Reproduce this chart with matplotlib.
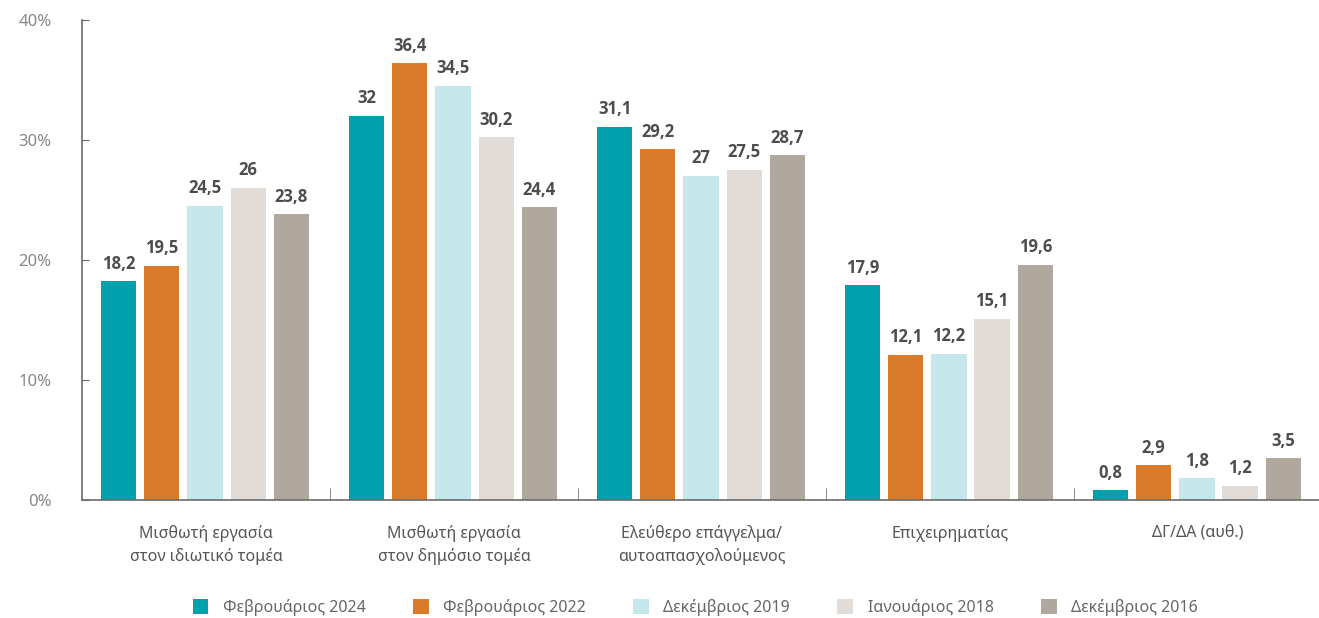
import matplotlib.pyplot as plt
import numpy as np

plt.rcParams['font.family'] = ['Noto Sans', 'DejaVu Sans']

categories = ['Μισθωτή εργασία\nστον ιδιωτικό τομέα',
              'Μισθωτή εργασία\nστον δημόσιο τομέα',
              'Ελεύθερο επάγγελμα/\nαυτοαπασχολούμενος',
              'Επιχειρηματίας',
              'ΔΓ/ΔΑ (αυθ.)']
series_names = ['Φεβρουάριος 2024', 'Φεβρουάριος 2022', 'Δεκέμβριος 2019',
                'Ιανουάριος 2018', 'Δεκέμβριος 2016']
feb2024 = [18.2, 32, 31.1, 17.9, 0.8]
feb2022 = [19.5, 36.4, 29.2, 12.1, 2.9]
dec2019 = [24.5, 34.5, 27, 12.2, 1.8]
jan2018 = [26, 30.2, 27.5, 15.1, 1.2]
dec2016 = [23.8, 24.4, 28.7, 19.6, 3.5]
colors = ['#00A0AD', '#DA7B2B', '#C5E6EA', '#E1DCD8', '#B0A89D']

data = [feb2024, feb2022, dec2019, jan2018, dec2016]

fig = plt.figure(figsize=(13.19, 6.18), dpi=100)
ax = fig.add_axes([0.0622, 0.191, 0.94, 0.777])

x = np.arange(len(categories)) + 0.5
pitch = 0.174
width = 0.142
for i, (vals, name, c) in enumerate(zip(data, series_names, colors)):
    pos = x + (i - 2) * pitch - 0.004
    ax.bar(pos, vals, width, color=c, label=name)
    for p, v in zip(pos, vals):
        txt = ('%g' % v).replace('.', ',')
        ax.text(p, v + 0.7, txt, ha='center', va='bottom', fontsize=12,
                fontweight='bold', color='#4d4d4d',
                family=['Open Sans', 'DejaVu Sans'])

ax.set_xlim(0, 5)
ax.set_ylim(0, 40)
ax.set_yticks([0, 10, 20, 30, 40])
ax.set_yticklabels(['0%', '10%', '20%', '30%', '40%'])
ax.set_xticks(x)
ax.set_xticklabels(categories, fontsize=11.5, color='#555555', linespacing=1.5)
ax.set_xticks(np.arange(1, 5), minor=True)
ax.tick_params(axis='x', which='major', length=0, pad=18)
ax.tick_params(axis='x', which='minor', direction='in', length=9, color='#777777')
ax.tick_params(axis='y', direction='in', length=5, color='#6b6b6b',
               labelsize=12, labelcolor='#888888', pad=22)

for s in ['top', 'right']:
    ax.spines[s].set_visible(False)
for s in ['left', 'bottom']:
    ax.spines[s].set_color('#6b6b6b')
    ax.spines[s].set_linewidth(1.2)

fig.legend(loc='lower center', bbox_to_anchor=(0.527, -0.02), ncol=5,
           frameon=False, fontsize=11.5, handlelength=1.0, handleheight=1.0,
           columnspacing=2.95, handletextpad=0.9, labelcolor='#666666')

fig.savefig('out.png', dpi=100)
